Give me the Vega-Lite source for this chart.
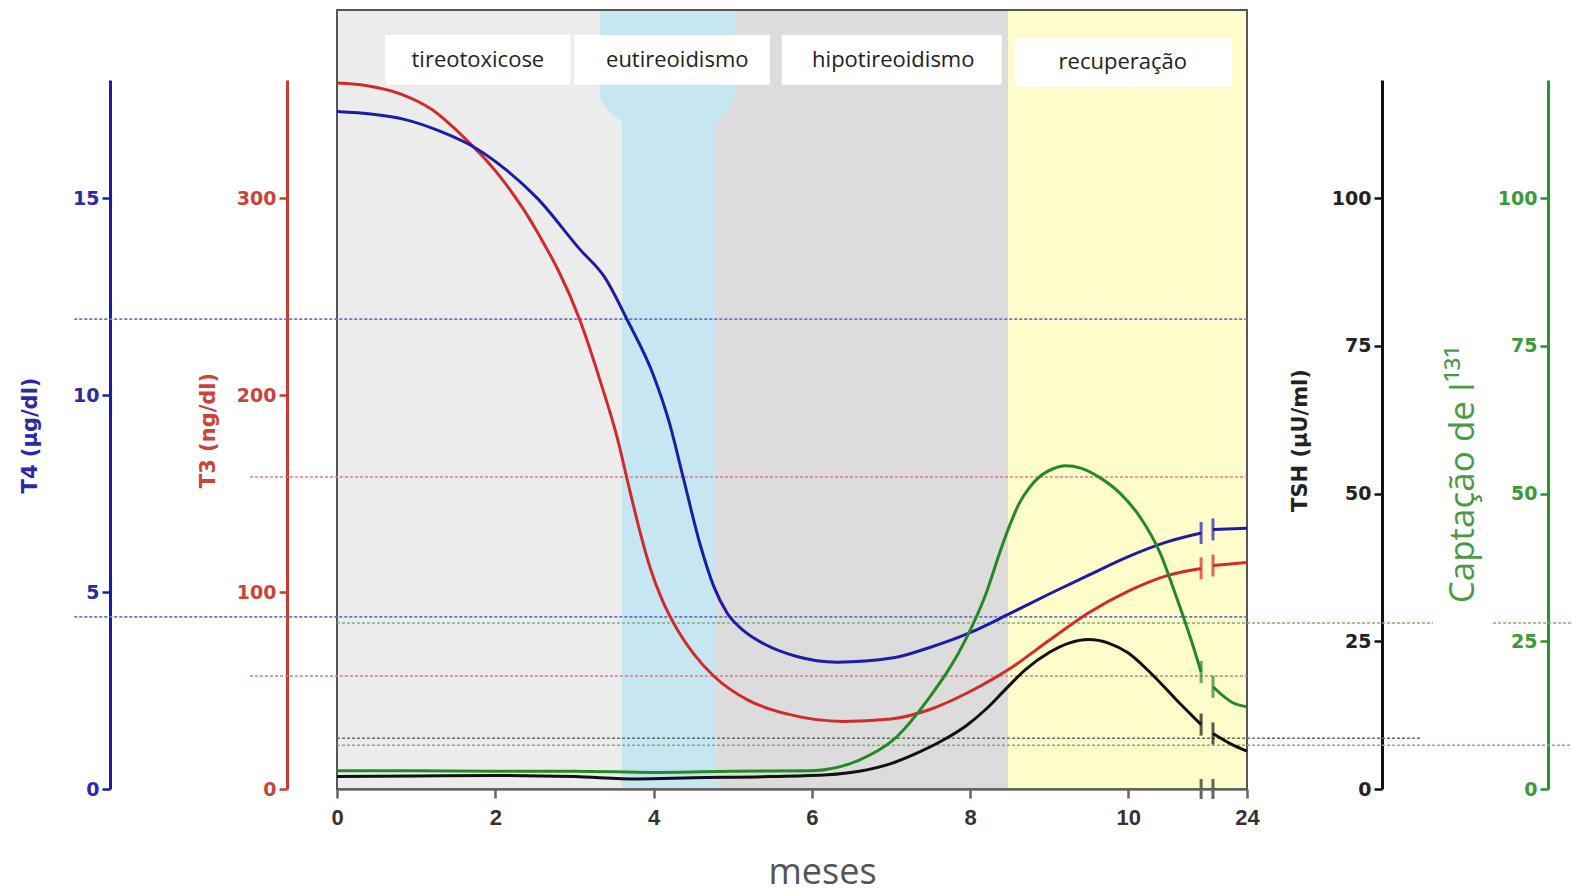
{
  "$schema": "https://vega.github.io/schema/vega-lite/v6.json",
  "width": 910,
  "height": 779,
  "autosize": {"type": "none"},
  "padding": {"left": 337, "top": 10, "right": 325, "bottom": 104},
  "background": "white",
  "config": {"view": {"stroke": null}},
  "datasets": {
    "phases": [
      {"phase": "tireotoxicose", "x0": 0, "x1": 3.6},
      {"phase": "hipotireoidismo", "x0": 4.79, "x1": 8.48},
      {"phase": "recuperação", "x0": 8.48, "x1": 11.5}
    ],
    "funnel": [
      {"y": 0, "xl": 3.6, "xr": 4.79},
      {"y": 0.856, "xl": 3.6, "xr": 4.79},
      {"y": 0.874, "xl": 3.4, "xr": 4.97},
      {"y": 0.888, "xl": 3.32, "xr": 5.03},
      {"y": 1, "xl": 3.32, "xr": 5.03}
    ],
    "boxes": [
      {"label": "tireotoxicose", "x0": 0.61, "x1": 2.95, "y0": 0.904, "y1": 0.968, "xt": 1.78, "yt": 0.936},
      {"label": "eutireoidismo", "x0": 3.0, "x1": 5.47, "y0": 0.904, "y1": 0.968, "xt": 4.3, "yt": 0.936},
      {"label": "hipotireoidismo", "x0": 5.62, "x1": 8.4, "y0": 0.904, "y1": 0.968, "xt": 7.03, "yt": 0.936},
      {"label": "recuperação", "x0": 8.57, "x1": 11.31, "y0": 0.901, "y1": 0.965, "xt": 9.93, "yt": 0.933}
    ],
    "xbreak": [{"m": 10.92}, {"m": 11.07}],
    "ref_t4": [
      {"v": 11.93, "x0": -3.32, "x1": 11.5},
      {"v": 4.37, "x0": -3.32, "x1": 11.5}
    ],
    "ref_t3": [
      {"v": 158.4, "x0": -1.1, "x1": 11.5},
      {"v": 57.4, "x0": -1.1, "x1": 11.5}
    ],
    "ref_tsh": [
      {"v": 8.6, "x0": 0, "x1": 13.69}
    ],
    "ref_rai": [
      {"v": 28.1, "x0": 0, "x1": 13.85},
      {"v": 28.1, "x0": 14.61, "x1": 15.6},
      {"v": 7.4, "x0": 0, "x1": 15.6}
    ],
    "t4": [
      {"m": 0, "v": 17.2, "seg": "a"},
      {"m": 0.45, "v": 17.13, "seg": "a"},
      {"m": 0.85, "v": 17.0, "seg": "a"},
      {"m": 1.3, "v": 16.7, "seg": "a"},
      {"m": 1.77, "v": 16.25, "seg": "a"},
      {"m": 2.15, "v": 15.7, "seg": "a"},
      {"m": 2.53, "v": 15.0, "seg": "a"},
      {"m": 3.07, "v": 13.7, "seg": "a"},
      {"m": 3.38, "v": 13.0, "seg": "a"},
      {"m": 3.67, "v": 11.9, "seg": "a"},
      {"m": 4.0, "v": 10.5, "seg": "a"},
      {"m": 4.2, "v": 9.3, "seg": "a"},
      {"m": 4.37, "v": 7.95, "seg": "a"},
      {"m": 4.59, "v": 6.2, "seg": "a"},
      {"m": 4.76, "v": 5.15, "seg": "a"},
      {"m": 4.93, "v": 4.47, "seg": "a"},
      {"m": 5.15, "v": 4.0, "seg": "a"},
      {"m": 5.4, "v": 3.68, "seg": "a"},
      {"m": 5.8, "v": 3.37, "seg": "a"},
      {"m": 6.32, "v": 3.22, "seg": "a"},
      {"m": 7.03, "v": 3.33, "seg": "a"},
      {"m": 7.5, "v": 3.6, "seg": "a"},
      {"m": 8.0, "v": 3.97, "seg": "a"},
      {"m": 8.5, "v": 4.45, "seg": "a"},
      {"m": 9.0, "v": 4.95, "seg": "a"},
      {"m": 9.5, "v": 5.43, "seg": "a"},
      {"m": 10.0, "v": 5.9, "seg": "a"},
      {"m": 10.5, "v": 6.28, "seg": "a"},
      {"m": 10.92, "v": 6.5, "seg": "a"},
      {"m": 11.07, "v": 6.59, "seg": "b"},
      {"m": 11.5, "v": 6.62, "seg": "b"}
    ],
    "t3": [
      {"m": 0, "v": 358.5, "seg": "a"},
      {"m": 0.4, "v": 357, "seg": "a"},
      {"m": 0.8, "v": 353, "seg": "a"},
      {"m": 1.2, "v": 345, "seg": "a"},
      {"m": 1.6, "v": 331, "seg": "a"},
      {"m": 2.0, "v": 314, "seg": "a"},
      {"m": 2.53, "v": 283, "seg": "a"},
      {"m": 3.07, "v": 238, "seg": "a"},
      {"m": 3.32, "v": 208, "seg": "a"},
      {"m": 3.55, "v": 177, "seg": "a"},
      {"m": 3.68, "v": 155, "seg": "a"},
      {"m": 3.82, "v": 132, "seg": "a"},
      {"m": 3.96, "v": 112, "seg": "a"},
      {"m": 4.12, "v": 95, "seg": "a"},
      {"m": 4.3, "v": 81, "seg": "a"},
      {"m": 4.5, "v": 69, "seg": "a"},
      {"m": 4.77, "v": 57, "seg": "a"},
      {"m": 5.2, "v": 45, "seg": "a"},
      {"m": 5.7, "v": 38, "seg": "a"},
      {"m": 6.4, "v": 34.3, "seg": "a"},
      {"m": 7.0, "v": 35.5, "seg": "a"},
      {"m": 7.5, "v": 40.5, "seg": "a"},
      {"m": 8.0, "v": 49.5, "seg": "a"},
      {"m": 8.5, "v": 61, "seg": "a"},
      {"m": 9.0, "v": 75.5, "seg": "a"},
      {"m": 9.5, "v": 89.5, "seg": "a"},
      {"m": 10.0, "v": 100.5, "seg": "a"},
      {"m": 10.5, "v": 108.5, "seg": "a"},
      {"m": 10.92, "v": 112, "seg": "a"},
      {"m": 11.07, "v": 113.5, "seg": "b"},
      {"m": 11.5, "v": 115, "seg": "b"}
    ],
    "tsh": [
      {"m": 0, "v": 2.1, "seg": "a"},
      {"m": 1, "v": 2.2, "seg": "a"},
      {"m": 2, "v": 2.3, "seg": "a"},
      {"m": 3, "v": 2.1, "seg": "a"},
      {"m": 3.8, "v": 1.7, "seg": "a"},
      {"m": 4.5, "v": 1.9, "seg": "a"},
      {"m": 5.5, "v": 2.1, "seg": "a"},
      {"m": 6.2, "v": 2.4, "seg": "a"},
      {"m": 6.6, "v": 3.0, "seg": "a"},
      {"m": 7.0, "v": 4.3, "seg": "a"},
      {"m": 7.3, "v": 5.9, "seg": "a"},
      {"m": 7.65, "v": 8.2, "seg": "a"},
      {"m": 7.96, "v": 10.8, "seg": "a"},
      {"m": 8.2, "v": 13.5, "seg": "a"},
      {"m": 8.45, "v": 16.9, "seg": "a"},
      {"m": 8.7, "v": 20.2, "seg": "a"},
      {"m": 9.0, "v": 23.1, "seg": "a"},
      {"m": 9.25, "v": 24.7, "seg": "a"},
      {"m": 9.5, "v": 25.3, "seg": "a"},
      {"m": 9.75, "v": 24.7, "seg": "a"},
      {"m": 10.0, "v": 23.0, "seg": "a"},
      {"m": 10.27, "v": 19.8, "seg": "a"},
      {"m": 10.6, "v": 15.2, "seg": "a"},
      {"m": 10.92, "v": 10.9, "seg": "a"},
      {"m": 11.07, "v": 9.4, "seg": "b"},
      {"m": 11.3, "v": 7.6, "seg": "b"},
      {"m": 11.5, "v": 6.4, "seg": "b"}
    ],
    "rai": [
      {"m": 0, "v": 3.1, "seg": "a"},
      {"m": 1, "v": 3.1, "seg": "a"},
      {"m": 2, "v": 3.0, "seg": "a"},
      {"m": 3, "v": 3.0, "seg": "a"},
      {"m": 4, "v": 2.8, "seg": "a"},
      {"m": 5, "v": 3.0, "seg": "a"},
      {"m": 6, "v": 3.1, "seg": "a"},
      {"m": 6.6, "v": 4.9, "seg": "a"},
      {"m": 7.03, "v": 8.3, "seg": "a"},
      {"m": 7.46, "v": 15, "seg": "a"},
      {"m": 7.96, "v": 25.7, "seg": "a"},
      {"m": 8.2, "v": 33, "seg": "a"},
      {"m": 8.38, "v": 40.2, "seg": "a"},
      {"m": 8.5, "v": 44.6, "seg": "a"},
      {"m": 8.62, "v": 48.3, "seg": "a"},
      {"m": 8.75, "v": 51.0, "seg": "a"},
      {"m": 8.9, "v": 53.1, "seg": "a"},
      {"m": 9.05, "v": 54.2, "seg": "a"},
      {"m": 9.2, "v": 54.7, "seg": "a"},
      {"m": 9.4, "v": 54.3, "seg": "a"},
      {"m": 9.64, "v": 52.7, "seg": "a"},
      {"m": 9.9, "v": 50.0, "seg": "a"},
      {"m": 10.15, "v": 46.0, "seg": "a"},
      {"m": 10.4, "v": 40.0, "seg": "a"},
      {"m": 10.6, "v": 32.8, "seg": "a"},
      {"m": 10.78, "v": 25.8, "seg": "a"},
      {"m": 10.92, "v": 19.8, "seg": "a"},
      {"m": 11.07, "v": 17.3, "seg": "b"},
      {"m": 11.32, "v": 14.6, "seg": "b"},
      {"m": 11.5, "v": 13.9, "seg": "b"}
    ]
  },
  "resolve": {"scale": {"y": "independent", "color": "independent"}},
  "layer": [
    {
      "layer": [
        {
          "data": {"name": "phases"},
          "mark": {"type": "rect"},
          "encoding": {
            "x": {
              "field": "x0", "type": "quantitative",
              "scale": {"domain": [0, 11.5], "nice": false, "zero": false},
              "axis": {
                "orient": "bottom",
                "values": [0, 2, 4, 6, 8, 10, 11.5],
                "labelExpr": "datum.value == 11.5 ? '24' : format(datum.value, 'd')",
                "grid": false,
                "domainColor": "#666666", "domainWidth": 2.5,
                "tickColor": "#666666", "tickWidth": 2.5, "tickSize": 9,
                "labelFont": "Liberation Sans", "labelFontWeight": "bold", "labelFontSize": 22,
                "labelColor": "#333333", "labelPadding": 9, "labelFlush": false,
                "title": "meses", "titleFont": "Open Sans", "titleFontSize": 36,
                "titleFontWeight": "normal", "titleColor": "#555555",
                "titleX": 485, "titleY": 83, "titleAlign": "center", "titleBaseline": "middle",
                "zindex": 1
              }
            },
            "x2": {"field": "x1"},
            "y": {"datum": 0, "type": "quantitative", "scale": {"domain": [0, 1], "nice": false, "zero": false}, "axis": null},
            "y2": {"datum": 1},
            "color": {
              "field": "phase", "type": "nominal",
              "scale": {"domain": ["tireotoxicose", "hipotireoidismo", "recuperação"], "range": ["#ececec", "#dcdcdc", "#fefccb"]},
              "legend": null
            }
          }
        },
        {
          "data": {"name": "funnel"},
          "mark": {"type": "area", "orient": "horizontal", "color": "#c6e7f1", "opacity": 1},
          "encoding": {
            "y": {"field": "y", "type": "quantitative", "axis": null},
            "x": {"field": "xl", "type": "quantitative", "stack": null},
            "x2": {"field": "xr"}
          }
        },
        {
          "data": {"name": "boxes"},
          "mark": {"type": "rect", "color": "#ffffff"},
          "encoding": {
            "x": {"field": "x0", "type": "quantitative"},
            "x2": {"field": "x1"},
            "y": {"field": "y0", "type": "quantitative", "axis": null},
            "y2": {"field": "y1"}
          }
        },
        {
          "data": {"name": "boxes"},
          "mark": {"type": "text", "font": "Open Sans", "fontSize": 22, "color": "#222222", "align": "center", "baseline": "middle"},
          "encoding": {
            "x": {"field": "xt", "type": "quantitative"},
            "y": {"field": "yt", "type": "quantitative", "axis": null},
            "text": {"field": "label", "type": "nominal"}
          }
        },
        {
          "data": {"values": [{}]},
          "mark": {"type": "rect", "fill": null, "stroke": "#555555", "strokeWidth": 2},
          "encoding": {
            "x": {"datum": 0, "type": "quantitative"},
            "x2": {"datum": 11.5},
            "y": {"datum": 0, "type": "quantitative", "axis": null},
            "y2": {"datum": 1}
          }
        },
        {
          "data": {"name": "xbreak"},
          "mark": {"type": "tick", "orient": "vertical", "color": "#222222", "size": 20, "thickness": 3},
          "encoding": {
            "x": {"field": "m", "type": "quantitative"},
            "y": {"datum": 0, "type": "quantitative", "axis": null}
          }
        }
      ]
    },
    {
      "data": {"name": "ref_t4"},
      "mark": {"type": "rule", "color": "#6e6ecc", "strokeWidth": 1.6, "strokeDash": [3, 2], "clip": false},
      "encoding": {
        "x": {"field": "x0", "type": "quantitative", "scale": {"domain": [0, 11.5], "nice": false, "zero": false}},
        "x2": {"field": "x1"},
        "y": {"field": "v", "type": "quantitative", "scale": {"domain": [0, 18], "range": [779, 70], "nice": false, "zero": false}, "axis": null}
      }
    },
    {
      "data": {"name": "ref_t3"},
      "mark": {"type": "rule", "color": "#e27b7b", "strokeWidth": 1.6, "strokeDash": [3, 2], "clip": false},
      "encoding": {
        "x": {"field": "x0", "type": "quantitative", "scale": {"domain": [0, 11.5], "nice": false, "zero": false}},
        "x2": {"field": "x1"},
        "y": {"field": "v", "type": "quantitative", "scale": {"domain": [0, 360], "range": [779, 70], "nice": false, "zero": false}, "axis": null}
      }
    },
    {
      "data": {"name": "ref_tsh"},
      "mark": {"type": "rule", "color": "#6a6a6a", "strokeWidth": 1.6, "strokeDash": [3, 2], "clip": false},
      "encoding": {
        "x": {"field": "x0", "type": "quantitative", "scale": {"domain": [0, 11.5], "nice": false, "zero": false}},
        "x2": {"field": "x1"},
        "y": {"field": "v", "type": "quantitative", "scale": {"domain": [0, 120], "range": [779, 70], "nice": false, "zero": false}, "axis": null}
      }
    },
    {
      "data": {"name": "ref_rai"},
      "mark": {"type": "rule", "color": "#77b577", "strokeWidth": 1.6, "strokeDash": [3, 2], "clip": false},
      "encoding": {
        "x": {"field": "x0", "type": "quantitative", "scale": {"domain": [0, 11.5], "nice": false, "zero": false}},
        "x2": {"field": "x1"},
        "y": {"field": "v", "type": "quantitative", "scale": {"domain": [0, 120], "range": [779, 70], "nice": false, "zero": false}, "axis": null}
      }
    },
    {
      "data": {"name": "tsh"},
      "layer": [
        {
          "mark": {"type": "line", "color": "#111111", "strokeWidth": 3, "interpolate": "monotone"},
          "encoding": {
            "x": {"field": "m", "type": "quantitative", "scale": {"domain": [0, 11.5], "nice": false, "zero": false}},
            "y": {
              "field": "v", "type": "quantitative",
              "scale": {"domain": [0, 120], "range": [779, 70], "nice": false, "zero": false},
              "axis": {
                "orient": "left", "offset": -1045, "values": [0, 25, 50, 75, 100], "grid": false,
                "domainColor": "#111111", "domainWidth": 3, "tickColor": "#111111", "tickWidth": 2.5, "tickSize": 8,
                "labelFont": "DejaVu Sans", "labelFontWeight": "bold", "labelFontSize": 19, "labelColor": "#222222", "labelPadding": 3,
                "title": "TSH (µU/ml)", "titleFont": "DejaVu Sans", "titleFontWeight": "bold", "titleFontSize": 21, "titleColor": "#222222",
                "titleX": -82, "titleY": 430, "titleAngle": -90, "titleAlign": "center", "titleBaseline": "middle"
              }
            },
            "detail": {"field": "seg", "type": "nominal"}
          }
        },
        {
          "transform": [{"filter": "datum.m > 10.9 && datum.m < 11.1"}],
          "mark": {"type": "tick", "orient": "vertical", "color": "#111111", "size": 22, "thickness": 3},
          "encoding": {
            "x": {"field": "m", "type": "quantitative"},
            "y": {"field": "v", "type": "quantitative"}
          }
        }
      ]
    },
    {
      "data": {"name": "t3"},
      "layer": [
        {
          "mark": {"type": "line", "color": "#d12a2a", "strokeWidth": 3, "interpolate": "monotone"},
          "encoding": {
            "x": {"field": "m", "type": "quantitative", "scale": {"domain": [0, 11.5], "nice": false, "zero": false}},
            "y": {
              "field": "v", "type": "quantitative",
              "scale": {"domain": [0, 360], "range": [779, 70], "nice": false, "zero": false},
              "axis": {
                "orient": "left", "offset": 50, "values": [0, 100, 200, 300], "grid": false,
                "domainColor": "#c93b2e", "domainWidth": 3, "tickColor": "#c93b2e", "tickWidth": 2.5, "tickSize": 8,
                "labelFont": "DejaVu Sans", "labelFontWeight": "bold", "labelFontSize": 19, "labelColor": "#c9443a", "labelPadding": 3,
                "title": "T3 (ng/dl)", "titleFont": "DejaVu Sans", "titleFontWeight": "bold", "titleFontSize": 21, "titleColor": "#c9443a",
                "titleX": -79, "titleY": 420, "titleAngle": -90, "titleAlign": "center", "titleBaseline": "middle"
              }
            },
            "detail": {"field": "seg", "type": "nominal"}
          }
        },
        {
          "transform": [{"filter": "datum.m > 10.9 && datum.m < 11.1"}],
          "mark": {"type": "tick", "orient": "vertical", "color": "#d12a2a", "size": 22, "thickness": 3},
          "encoding": {
            "x": {"field": "m", "type": "quantitative"},
            "y": {"field": "v", "type": "quantitative"}
          }
        }
      ]
    },
    {
      "data": {"name": "t4"},
      "layer": [
        {
          "mark": {"type": "line", "color": "#1c1ca6", "strokeWidth": 3, "interpolate": "monotone"},
          "encoding": {
            "x": {"field": "m", "type": "quantitative", "scale": {"domain": [0, 11.5], "nice": false, "zero": false}},
            "y": {
              "field": "v", "type": "quantitative",
              "scale": {"domain": [0, 18], "range": [779, 70], "nice": false, "zero": false},
              "axis": {
                "orient": "left", "offset": 227, "values": [0, 5, 10, 15], "grid": false,
                "domainColor": "#1c1ca6", "domainWidth": 3, "tickColor": "#1c1ca6", "tickWidth": 2.5, "tickSize": 8,
                "labelFont": "DejaVu Sans", "labelFontWeight": "bold", "labelFontSize": 19, "labelColor": "#2a2aa6", "labelPadding": 3,
                "title": "T4 (µg/dl)", "titleFont": "DejaVu Sans", "titleFontWeight": "bold", "titleFontSize": 21, "titleColor": "#2a2aa6",
                "titleX": -80, "titleY": 425, "titleAngle": -90, "titleAlign": "center", "titleBaseline": "middle"
              }
            },
            "detail": {"field": "seg", "type": "nominal"}
          }
        },
        {
          "transform": [{"filter": "datum.m > 10.9 && datum.m < 11.1"}],
          "mark": {"type": "tick", "orient": "vertical", "color": "#1c1ca6", "size": 22, "thickness": 3},
          "encoding": {
            "x": {"field": "m", "type": "quantitative"},
            "y": {"field": "v", "type": "quantitative"}
          }
        }
      ]
    },
    {
      "data": {"name": "rai"},
      "layer": [
        {
          "mark": {"type": "line", "color": "#238a23", "strokeWidth": 3, "interpolate": "monotone"},
          "encoding": {
            "x": {"field": "m", "type": "quantitative", "scale": {"domain": [0, 11.5], "nice": false, "zero": false}},
            "y": {
              "field": "v", "type": "quantitative",
              "scale": {"domain": [0, 120], "range": [779, 70], "nice": false, "zero": false},
              "axis": {
                "orient": "left", "offset": -1211, "values": [0, 25, 50, 75, 100], "grid": false,
                "domainColor": "#2a922a", "domainWidth": 3, "tickColor": "#2a922a", "tickWidth": 2.5, "tickSize": 8,
                "labelFont": "DejaVu Sans", "labelFontWeight": "bold", "labelFontSize": 19, "labelColor": "#3a9a3a", "labelPadding": 3,
                "title": "Captação de I¹³¹", "titleFont": "Open Sans", "titleFontWeight": "normal", "titleFontSize": 35, "titleColor": "#4a9a42",
                "titleX": -86, "titleY": 464, "titleAngle": -90, "titleAlign": "center", "titleBaseline": "middle"
              }
            },
            "detail": {"field": "seg", "type": "nominal"}
          }
        },
        {
          "transform": [{"filter": "datum.m > 10.9 && datum.m < 11.1"}],
          "mark": {"type": "tick", "orient": "vertical", "color": "#238a23", "size": 22, "thickness": 3},
          "encoding": {
            "x": {"field": "m", "type": "quantitative"},
            "y": {"field": "v", "type": "quantitative"}
          }
        }
      ]
    }
  ]
}
